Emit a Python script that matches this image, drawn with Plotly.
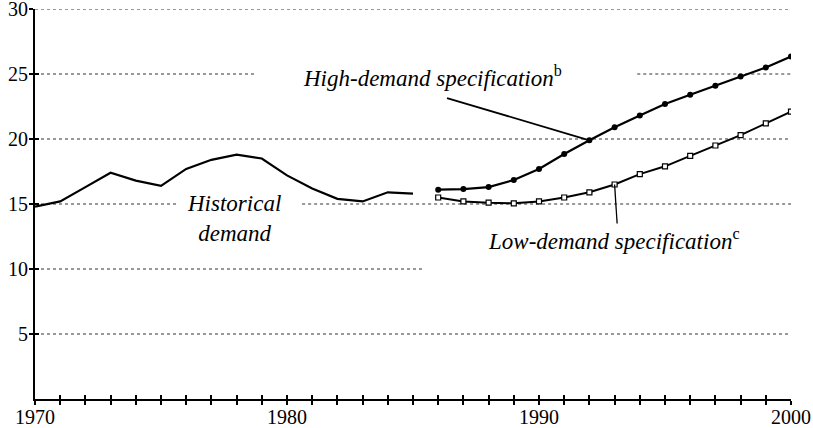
import plotly.graph_objects as go

# ---- data ----
hist_years = list(range(1970, 1986))
hist_demand = [14.8, 15.2, 16.3, 17.4, 16.8, 16.4, 17.7, 18.4, 18.8, 18.5,
               17.2, 16.2, 15.4, 15.2, 15.9, 15.8]

proj_years = list(range(1986, 2001))
high_demand = [16.1, 16.15, 16.3, 16.85, 17.7, 18.85, 19.9, 20.9, 21.8, 22.7,
               23.4, 24.1, 24.8, 25.5, 26.35]
low_demand = [15.5, 15.2, 15.1, 15.05, 15.2, 15.5, 15.9, 16.5, 17.3, 17.9,
              18.7, 19.5, 20.3, 21.2, 22.1]

y_ticks = [5, 10, 15, 20, 25, 30]
x_ticks = [1970, 1980, 1990, 2000]

SERIF = "Liberation Serif"

fig = go.Figure()

fig.add_trace(go.Scatter(x=hist_years, y=hist_demand, mode="lines",
                         line=dict(color="black", width=2.2), showlegend=False,
                         hoverinfo="skip"))
fig.add_trace(go.Scatter(x=proj_years, y=high_demand, mode="lines+markers",
                         line=dict(color="black", width=2.2),
                         marker=dict(symbol="circle", size=6, color="black"),
                         showlegend=False, hoverinfo="skip"))
fig.add_trace(go.Scatter(x=proj_years, y=low_demand, mode="lines+markers",
                         line=dict(color="black", width=2),
                         marker=dict(symbol="square", size=5, color="white",
                                     line=dict(color="black", width=1.2)),
                         showlegend=False, hoverinfo="skip"))
# helper trace so overlay axes get drawn
fig.add_trace(go.Scatter(x=[None], y=[None], xaxis="x2", yaxis="y2",
                         showlegend=False, hoverinfo="skip"))

# gridline segments (y, x_start, x_end) with gaps as in the original
grid_segments = [
    (30, 1970, 2000),
    (25, 1970, 1978.7), (25, 1993.9, 2000),
    (20, 1970, 2000),
    (15, 1970, 1975.6), (15, 1980.6, 2000),
    (10, 1970, 1985.4),
    (5, 1970, 2000),
]
shapes = []
for gy, gx0, gx1 in grid_segments:
    shapes.append(dict(type="line", xref="x", yref="y", x0=gx0, x1=gx1,
                       y0=gy, y1=gy, layer="below",
                       line=dict(color="#333333", width=1, dash="dot")))

# leader lines
i92 = proj_years.index(1992)
i93 = proj_years.index(1993)
shapes.append(dict(type="line", xref="x", yref="y", x0=1986.35, y0=23.15,
                   x1=proj_years[i92], y1=high_demand[i92],
                   line=dict(color="black", width=1.8)))
shapes.append(dict(type="line", xref="x", yref="y", x0=proj_years[i93],
                   y0=low_demand[i93], x1=1993.1, y1=13.5,
                   line=dict(color="black", width=1.3)))

ann_font = dict(family=SERIF, size=23, color="black", style="italic")
SUP = '<sup><span style="font-style:normal">{}</span></sup>'
annotations = [
    dict(x=1980.55, y=24.8, xref="x", yref="y", xanchor="left", yanchor="middle",
         text="High-demand specification" + SUP.format("b"), showarrow=False,
         font=ann_font),
    dict(x=1987.9, y=12.25, xref="x", yref="y", xanchor="left", yanchor="middle",
         text="Low-demand specification" + SUP.format("c"), showarrow=False,
         font=ann_font),
    dict(x=1977.9, y=13.9, xref="x", yref="y", xanchor="center", yanchor="middle",
         text="Historical<br>demand", showarrow=False, font=ann_font, align="center"),
]

tick_font = dict(family=SERIF, size=20, color="black")

fig.update_layout(
    width=813, height=428,
    margin=dict(l=35, r=22, t=9, b=29, autoexpand=False),
    paper_bgcolor="white", plot_bgcolor="white",
    shapes=shapes, annotations=annotations,
    xaxis=dict(range=[1970, 2000], tickvals=x_ticks, ticks="outside", ticklen=4,
               tickwidth=1.5, tickcolor="black", showgrid=False, zeroline=False,
               showline=True, linecolor="black", linewidth=2, tickfont=tick_font,
               automargin=False, ticklabelstandoff=-5, ticklabeloverflow="allow",
               minor=dict(ticks="outside", dtick=1, ticklen=4, tickwidth=1.5,
                          tickcolor="black", showgrid=False)),
    xaxis2=dict(range=[1970, 2000], overlaying="x", anchor="y", dtick=1, tick0=1970,
                ticks="inside", ticklen=4, tickwidth=1.5, tickcolor="black",
                showticklabels=False, showgrid=False, zeroline=False, showline=False),
    yaxis=dict(range=[0, 30.001], tickvals=y_ticks, ticks="outside", ticklen=4,
               tickwidth=1.5, tickcolor="black", showgrid=False, zeroline=False,
               showline=True, linecolor="black", linewidth=2, tickfont=tick_font,
               automargin=False, ticklabelstandoff=-3, ticklabeloverflow="allow"),
    yaxis2=dict(range=[0, 30.001], overlaying="y", anchor="x", tickvals=y_ticks,
                ticks="inside", ticklen=4, tickwidth=1.5, tickcolor="black",
                showticklabels=False, showgrid=False, zeroline=False, showline=False),
)

fig.write_html("out.html", config={"displayModeBar": False},
               post_script="document.body.style.margin='0';"
                           "document.body.style.overflow='hidden';")
